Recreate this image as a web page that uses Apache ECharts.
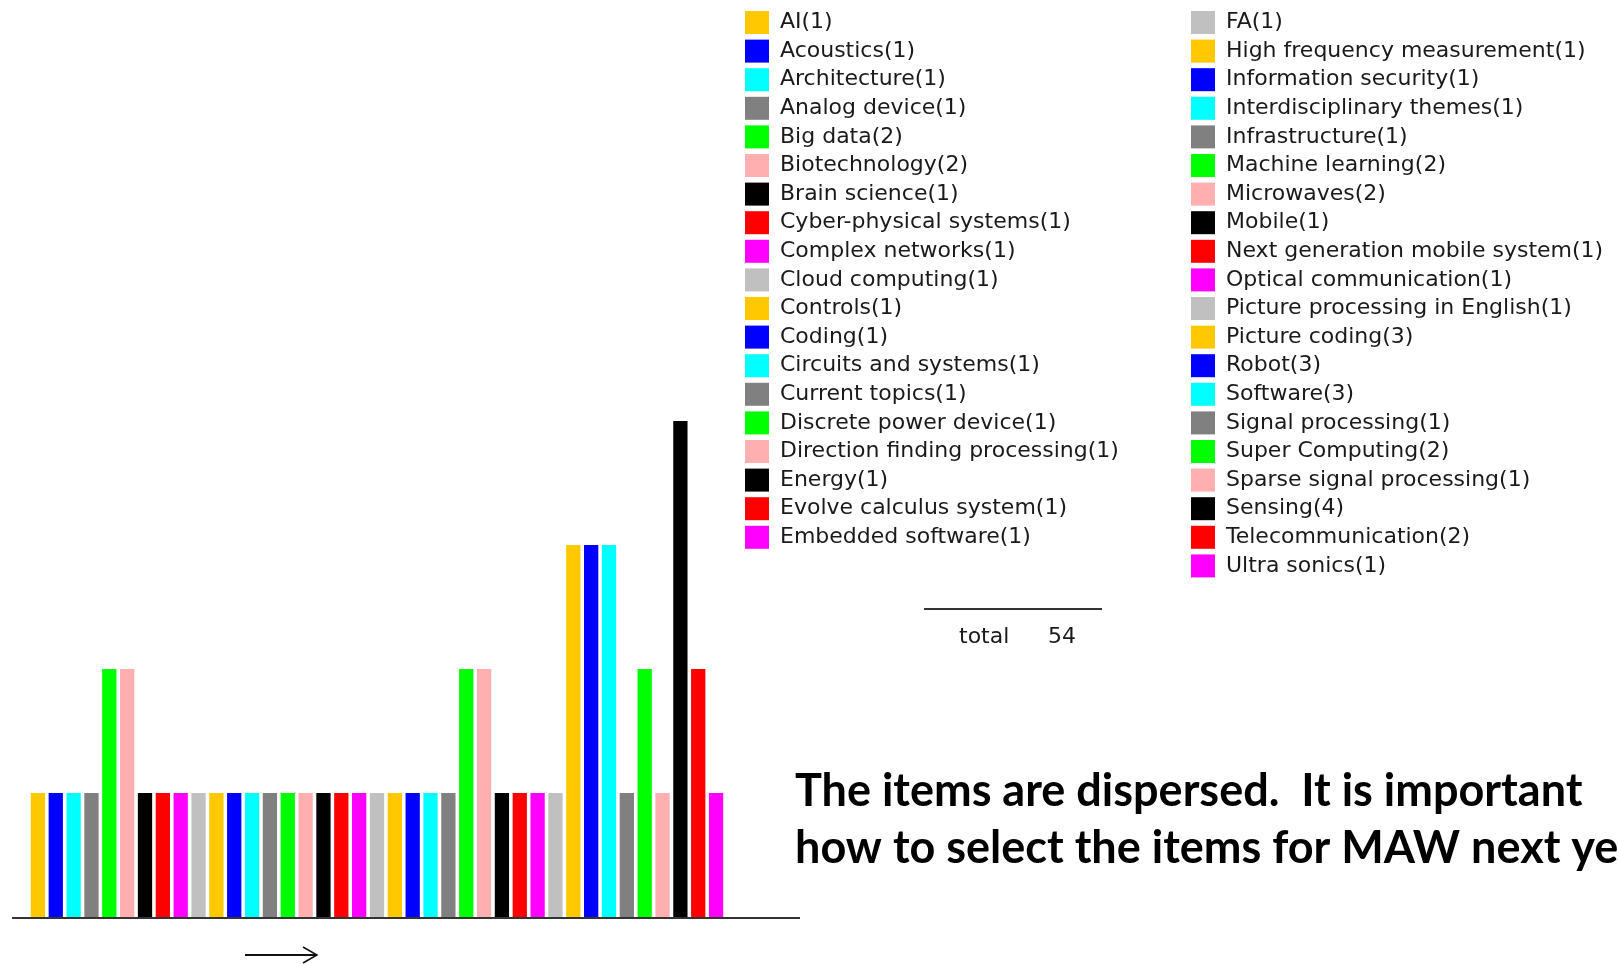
<!DOCTYPE html>
<html>
<head>
<meta charset="utf-8">
<style>
  html, body { margin: 0; padding: 0; background: #fff; }
  #chart { width: 1618px; height: 964px; }
</style>
<script src="https://cdn.jsdelivr.net/npm/echarts@6/dist/echarts.min.js"></script>
</head>
<body>
<div id="chart"></div>
<script>
// 分野ごとの件数（凡例の順 = 棒の順）
const categories = [
  'AI', 'Acoustics', 'Architecture', 'Analog device', 'Big data', 'Biotechnology',
  'Brain science', 'Cyber-physical systems', 'Complex networks', 'Cloud computing',
  'Controls', 'Coding', 'Circuits and systems', 'Current topics', 'Discrete power device',
  'Direction finding processing', 'Energy', 'Evolve calculus system', 'Embedded software',
  'FA', 'High frequency measurement', 'Information security', 'Interdisciplinary themes',
  'Infrastructure', 'Machine learning', 'Microwaves', 'Mobile', 'Next generation mobile system',
  'Optical communication', 'Picture processing in English', 'Picture coding', 'Robot',
  'Software', 'Signal processing', 'Super Computing', 'Sparse signal processing',
  'Sensing', 'Telecommunication', 'Ultra sonics'
];
const counts = [
  1, 1, 1, 1, 2, 2, 1, 1, 1, 1, 1, 1, 1, 1, 1, 1, 1, 1, 1,
  1, 1, 1, 1, 1, 2, 2, 1, 1, 1, 1, 3, 3, 3, 1, 2, 1, 4, 2, 1
];
const total = 54;

// Java AWT 風の色を 10 色で循環
const palette = ['#ffc800', '#0000ff', '#00ffff', '#808080', '#00ff00',
                 '#ffafaf', '#000000', '#ff0000', '#ff00ff', '#c0c0c0'];

const leftNames = categories.slice(0, 19);
const rightNames = categories.slice(19);

const chart = echarts.init(document.getElementById('chart'));

const legendBase = {
  orient: 'vertical',
  top: 11,
  padding: 0,
  icon: 'rect',
  itemWidth: 24,
  itemHeight: 23,
  itemGap: 5.6,
  selectedMode: false,
  formatter: name => `${name}(${counts[categories.indexOf(name)]})`,
  textStyle: {
    fontFamily: 'DejaVu Sans',
    fontSize: 22,
    lineHeight: 23,
    color: '#1a1a1a',
    padding: [0, 0, 0, 6]
  }
};

// 1 系列 1 カテゴリにして凡例に並べる（stack で同じ位置に積む）
const series = categories.map((name, i) => ({
  name: name,
  type: 'bar',
  stack: 'all',
  barCategoryGap: '20%',
  data: categories.map((_, k) => (k === i ? counts[i] : '-')),
  itemStyle: { color: palette[i % 10] }
}));

const option = {
  backgroundColor: '#fff',
  animation: false,
  grid: { left: 29, width: 696, top: 421, height: 496 },
  xAxis: {
    type: 'category',
    data: categories,
    show: false
  },
  yAxis: {
    type: 'value',
    min: 0,
    max: 4,
    show: false
  },
  legend: [
    Object.assign({}, legendBase, { left: 745, data: leftNames }),
    Object.assign({}, legendBase, { left: 1191, data: rightNames })
  ],
  series: series,
  graphic: [
    // 基線
    { type: 'line', shape: { x1: 12, y1: 918, x2: 800, y2: 918 },
      style: { stroke: '#333', lineWidth: 2 } },
    // 矢印
    { type: 'line', shape: { x1: 245, y1: 955, x2: 317, y2: 955 },
      style: { stroke: '#111', lineWidth: 2 } },
    { type: 'polyline', shape: { points: [[303, 947], [317, 955], [303, 963]] },
      style: { stroke: '#111', lineWidth: 1.5, fill: null } },
    // 合計
    { type: 'line', shape: { x1: 924, y1: 609, x2: 1102, y2: 609 },
      style: { stroke: '#333', lineWidth: 2 } },
    { type: 'text', x: 959, y: 637,
      style: { text: 'total', fontFamily: 'DejaVu Sans', fontSize: 22, fill: '#1a1a1a', verticalAlign: 'middle' } },
    { type: 'text', x: 1048, y: 637,
      style: { text: String(total), fontFamily: 'DejaVu Sans', fontSize: 22, fill: '#1a1a1a', verticalAlign: 'middle' } },
    // コメント
    { type: 'text', x: 795, y: 763,
      style: {
        text: 'The items are dispersed.  It is important\nhow to select the items for MAW next year.',
        fontFamily: 'Lato', fontWeight: 'bold', fontSize: 45, lineHeight: 57,
        fill: '#000', verticalAlign: 'top'
      } }
  ]
};

chart.setOption(option);
window.addEventListener('resize', () => chart.resize());
</script>
</body>
</html>
